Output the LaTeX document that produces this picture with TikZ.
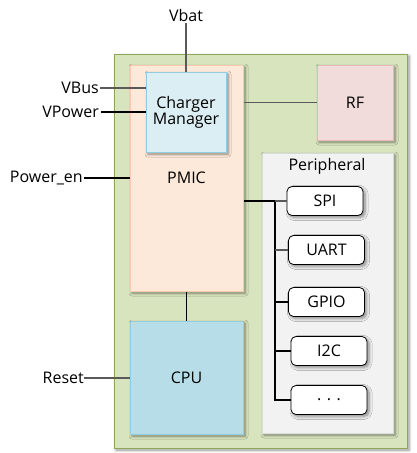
\documentclass[tikz,border=0pt]{standalone}
\usepackage{fontspec}
\setmainfont{Open Sans}
\usetikzlibrary{shadows.blur}
\definecolor{gfill}{HTML}{D7E4BD}
\definecolor{gdraw}{HTML}{8EA65A}
\definecolor{pfill}{HTML}{FDE9D9}
\definecolor{pdraw}{HTML}{F8CBAD}
\definecolor{cfill}{HTML}{DBEEF4}
\definecolor{cdraw}{HTML}{93CDDD}
\definecolor{rfill}{HTML}{F2DCDB}
\definecolor{rdraw}{HTML}{E6B9B8}
\definecolor{perfill}{HTML}{F2F2F2}
\definecolor{perdraw}{HTML}{D9D9D9}
\definecolor{cpufill}{HTML}{B7DEE8}
\definecolor{ln}{HTML}{595959}
\tikzset{
  x=1pt,y=-1pt,
  every node/.style={font=\fontsize{16}{18}\selectfont, inner sep=0pt},
  shd/.style={blur shadow={shadow xshift=2pt,shadow yshift=-2pt,shadow blur steps=6,shadow blur radius=3pt,shadow opacity=45}},
  blk/.style={draw, shd, line width=1pt, minimum width=#1, align=center},
  rbox/.style={draw=black, fill=white, rounded corners=5pt, line width=0.8pt, shd, minimum width=76pt, minimum height=29pt},
  wire/.style={draw=ln, line width=1.2pt},
  bus/.style={draw=black, line width=1.6pt},
  lbl/.style={anchor=east},
}
\begin{document}
\begin{tikzpicture}
\useasboundingbox (0,0) rectangle (417,453);
% containers
\node[blk=293pt, minimum height=394pt, fill=gfill, draw=gdraw] (soc) at (260.5,251) {};
\node[blk=113pt, minimum height=226pt, fill=pfill, draw=pdraw] (pmic) at (186.5,178) {PMIC};
\node[blk=80pt, minimum height=80pt, fill=cfill, draw=cdraw] (cm) at (186,112) {Charger\\[-2pt]Manager};
\node[blk=76pt, minimum height=75pt, fill=rfill, draw=rdraw] (rf) at (355,102.5) {RF};
\node[blk=131pt, minimum height=280pt, fill=perfill, draw=perdraw] (per) at (327.5,293) {};
\node (pertitle) at (327,166) {Peripheral};
\node[blk=113pt, minimum height=113pt, fill=cpufill, draw=cdraw] (cpu) at (186.5,377.5) {CPU};
% peripheral boxes
\node[rbox] (spi) at (325,201) {SPI};
\node[rbox] (uart) at (326.5,250) {UART};
\node[rbox] (gpio) at (326.5,302) {GPIO};
\node[rbox] (i2c) at (329,351) {I2C};
\node[rbox] (dots) at (329,400) {. . .};
% external labels
\node (vbat) at (186,15) {Vbat};
\node[lbl] (vbus) at (99,88) {VBus};
\node[lbl] (vpower) at (99,112) {VPower};
\node[lbl] (pwren) at (83,178) {Power\_en};
\node[lbl] (reset) at (84,378) {Reset};
% connectors
\draw[wire] (vbat.south) ++(0,2) -- (cm.north);
\draw[wire] (vbus.east) ++(1,0) -- (cm.west |- vbus.east);
\draw[wire,draw=black] (vpower.east) ++(2,0) -- (cm.west |- vpower.east);
\draw[wire,draw=black] (pwren.east) ++(1,0) -- (pmic.west |- pwren.east);
\draw[wire] (reset.east) -- (cpu.west |- reset.east);
\draw[wire] (rf.west) -- (pmic.east |- rf.west);
\draw[wire,draw=black] (pmic.south) -- (cpu.north);
\coordinate (bustop) at (275,201);
\draw[bus] (pmic.east |- spi.west) -- (bustop) -- (bustop |- dots.west) -- (dots.west);
\draw[wire] (bustop) -- (spi.west);
\draw[wire] (bustop |- uart.west) -- (uart.west);
\draw[wire,draw=black] (bustop |- gpio.west) -- (gpio.west);
\draw[wire,draw=black] (bustop |- i2c.west) -- (i2c.west);
\end{tikzpicture}
\end{document}
